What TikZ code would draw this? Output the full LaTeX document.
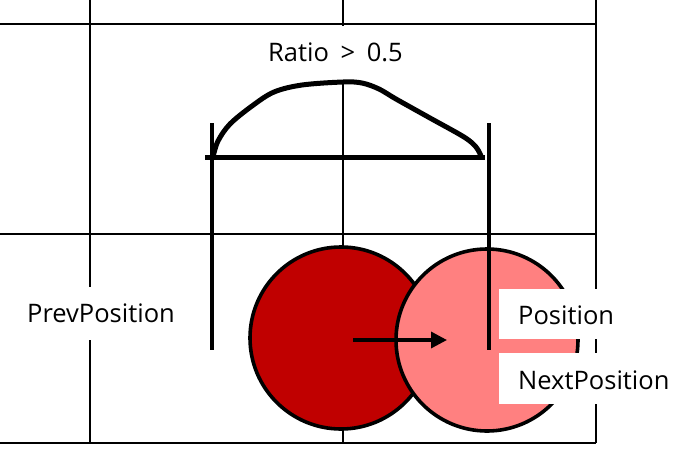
\documentclass[tikz,border=0pt]{standalone}
\usepackage{fontspec}
\setmainfont{Open Sans}
\usetikzlibrary{arrows.meta}
\definecolor{darkred}{HTML}{C00000}
\definecolor{lightred}{HTML}{FF8080}
\tikzset{
  gridline/.style={line width=2.4pt, black},
  thickline/.style={line width=5pt, black},
  barline/.style={line width=3.4pt, black},
  ball/.style={circle, draw=black, line width=3.6pt, minimum size=182pt, inner sep=0pt},
  txt/.style={font=\fontsize{25.5}{30}\selectfont},
  label/.style={fill=white, inner sep=0pt, txt},
}
\begin{document}
\begin{tikzpicture}[x=1pt,y=-1pt]
\useasboundingbox (0,0) rectangle (689,456);
% grid
\foreach \x in {90,343,596} \draw[gridline] (\x,0) -- (\x,443);
\foreach \y in {24,234,443} \draw[gridline] (0,\y) -- (596,\y);
% ratio curve
\node[label, minimum width=150pt, minimum height=54pt] (ratio) at (335.5,52.5) {Ratio\hspace{5pt} > \hspace{5pt}0.5};
\draw[thickline, line join=round, line cap=round] plot[smooth, tension=0.55] coordinates
  {(213,157) (218,141) (230,124) (252,106) (274,92) (302,85) (343,82) (362,83) (379,89) (396,99) (430,118) (464,137) (476,147) (481,156)};
\coordinate (hl) at (205,157);
\coordinate (hr) at (485,157);
\draw[thickline] (hl) -- (hr);
% circles
\node[ball, fill=darkred] (prev) at (341,338) {};
\node[ball, fill=lightred] (next) at (487,340) {};
% bars
\coordinate (lbt) at (212,123);
\coordinate (lbb) at (212,350);
\coordinate (rbt) at (489,123);
\coordinate (rbb) at (489,350);
\draw[barline] (lbt) -- (lbb);
\draw[barline] (rbt) -- (rbb);
% arrow
\coordinate (arrowend) at (447,340);
\draw[barline, -{Triangle[length=16pt,width=16pt]}] (353,340) -- (arrowend);
% labels
\node[label, minimum width=175pt, minimum height=53pt] (prevlabel) at (101,313.5) {PrevPosition};
\node[fill=white, inner sep=0pt, anchor=west, minimum width=135pt, minimum height=50pt] (posbox) at (499,314) {};
\node[txt, anchor=west, inner sep=0pt] (postext) at (518,315) {Position};
\node[fill=white, inner sep=0pt, anchor=west, minimum width=190pt, minimum height=51pt] (nextbox) at (499,378.5) {};
\node[txt, anchor=west, inner sep=0pt] (nexttext) at (518,380) {NextPosition};
\end{tikzpicture}
\end{document}
